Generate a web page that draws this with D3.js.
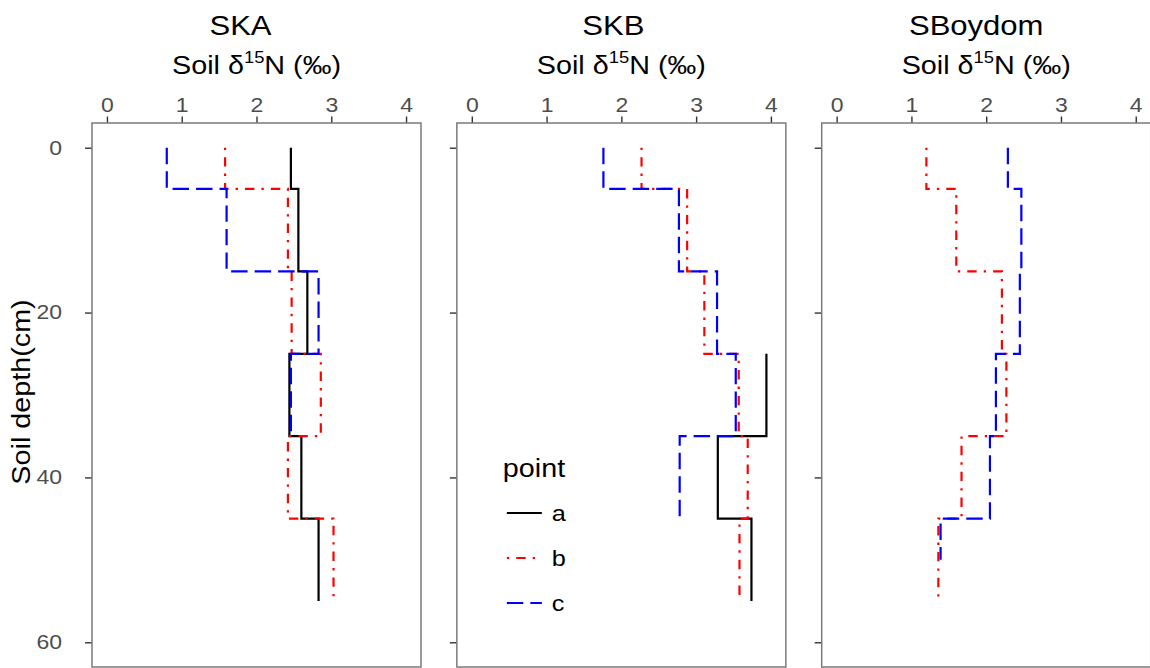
<!DOCTYPE html>
<html>
<head>
<meta charset="utf-8">
<script src="https://cdn.jsdelivr.net/npm/d3@7"></script>
<style>
  body { margin: 0; background: #fff; }
  text { font-family: "Liberation Sans", Arial, sans-serif; }
</style>
</head>
<body>
<script>
// ---- data ----
const sites = ["SKA", "SKB", "SBoydom"];
const points = ["a", "b", "c"];
const layerTop = [0, 5, 15, 25, 35, 45];
const layerBottom = [5, 15, 25, 35, 45, 55];
const xTicks = [0, 1, 2, 3, 4];
const yTicks = [0, 20, 40, 60];

// soil d15N per layer, null = not sampled
const skaA = [2.46, 2.56, 2.68, 2.44, 2.60, 2.83];
const skaB = [1.58, 2.42, 2.47, 2.86, 2.42, 3.03];
const skaC = [0.80, 1.60, 2.83, 2.46, null, null];
const skbA = [null, null, null, 3.94, 3.29, 3.74];
const skbB = [2.27, 2.88, 3.11, 3.57, 3.69, 3.58];
const skbC = [1.76, 2.77, 3.28, 3.53, 2.78, null];
const sbB  = [1.20, 1.60, 2.21, 2.27, 1.67, 1.36];
const sbC  = [2.29, 2.47, 2.45, 2.13, 2.05, 1.39];
// last SBoydom c sample stops at 50 cm
const sbCBottom = [5, 15, 25, 35, 45, 50];

const series = [
  {site: "SKA", point: "a", v: skaA, bot: layerBottom},
  {site: "SKA", point: "b", v: skaB, bot: layerBottom},
  {site: "SKA", point: "c", v: skaC, bot: layerBottom},
  {site: "SKB", point: "a", v: skbA, bot: layerBottom},
  {site: "SKB", point: "b", v: skbB, bot: layerBottom},
  {site: "SKB", point: "c", v: skbC, bot: layerBottom},
  {site: "SBoydom", point: "b", v: sbB, bot: layerBottom},
  {site: "SBoydom", point: "c", v: sbC, bot: sbCBottom}
];

// ---- layout ----
const WIDTH = 1150, HEIGHT = 668;
const sx = 1.15; // text is a bit wide in the original
const panelW = 329, panelStep = 364.85, panelLeft = 92;
const plotTop = 123, plotBottom = 667;
const titleShift = [-16, -8, -10];

const colors = {a: "#000000", b: "#ff0000", c: "#0000ff"};
const dashes = {a: null, b: "2.35 7.05 9.4 7.05", c: "16.45 7.05"};

const svg = d3.select("body").append("svg")
  .attr("width", WIDTH).attr("height", HEIGHT);

const y = d3.scaleLinear().domain([-3, 63]).range([plotTop, plotBottom]);

function stepPoints(s) {
  let pts = [];
  s.v.forEach((val, i) => {
    if (val === null) return;
    pts.push([val, layerTop[i]]);
    pts.push([val, s.bot[i]]);
  });
  return pts;
}

sites.forEach((site, i) => {
  const left = panelLeft + i * panelStep;
  const x = d3.scaleLinear().domain([-0.2, 4.2]).range([left, left + panelW]);
  const g = svg.append("g");

  // title
  g.append("text")
    .attr("transform", `translate(${left + panelW / 2 + titleShift[i]},35) scale(${sx},1)`)
    .attr("text-anchor", "middle")
    .attr("font-size", 27)
    .attr("fill", "#000")
    .text(site);

  // x axis title
  let xt = g.append("text")
    .attr("transform", `translate(${left + panelW / 2},74) scale(${sx},1)`)
    .attr("text-anchor", "middle")
    .attr("font-size", 25)
    .attr("fill", "#000");
  xt.append("tspan").text("Soil \u03b4");
  xt.append("tspan").attr("font-size", 16).attr("dy", -11).text("15");
  xt.append("tspan").attr("dy", 11).text("N (\u2030)");

  // axes
  let ax = g.append("g")
    .attr("transform", `translate(0,${plotTop})`)
    .call(d3.axisTop(x).tickValues(xTicks).tickSize(6.5).tickPadding(5).tickFormat(d3.format("d")));
  let ay = g.append("g")
    .attr("transform", `translate(${left},0)`)
    .call(d3.axisLeft(y).tickValues(yTicks).tickSize(7).tickPadding(19)
      .tickFormat(i === 0 ? d3.format("d") : () => ""));
  [ax, ay].forEach(a => {
    a.select(".domain").remove();
    a.selectAll(".tick line").attr("stroke", "#333").attr("stroke-width", 1.4);
    a.selectAll(".tick text")
      .attr("font-size", 20)
      .attr("fill", "#4d4d4d")
      .attr("font-family", "Liberation Sans, Arial, sans-serif")
      .attr("transform", `scale(${sx},1)`);
  });

  // step lines
  const line = d3.line().x(d => x(d[0])).y(d => y(d[1]));
  points.forEach(p => {
    series.filter(s => s.site === site && s.point === p).forEach(s => {
      g.append("path")
        .attr("d", line(stepPoints(s)))
        .attr("fill", "none")
        .attr("stroke", colors[p])
        .attr("stroke-width", 2.2)
        .attr("stroke-dasharray", dashes[p]);
    });
  });

  // border
  g.append("rect")
    .attr("x", left).attr("y", plotTop)
    .attr("width", panelW).attr("height", plotBottom - plotTop)
    .attr("fill", "none")
    .attr("stroke", "#7a7a7a")
    .attr("stroke-width", 1.5);

  // legend sits inside the SKB panel
  if (i === 1) {
    const lg = g.append("g").attr("transform", `translate(${left},0)`);
    lg.append("text")
      .attr("transform", `translate(46,477) scale(${sx},1)`)
      .attr("font-size", 25)
      .attr("fill", "#000")
      .text("point");
    const keyY = d3.scalePoint().domain(points).range([513, 603]);
    points.forEach(p => {
      lg.append("line")
        .attr("x1", 50).attr("x2", 85)
        .attr("y1", keyY(p)).attr("y2", keyY(p))
        .attr("stroke", colors[p])
        .attr("stroke-width", 2.2)
        .attr("stroke-dasharray", dashes[p]);
      lg.append("text")
        .attr("transform", `translate(95,${keyY(p) + 8}) scale(${sx},1)`)
        .attr("font-size", 22)
        .attr("fill", "#000")
        .text(p);
    });
  }
});

// y axis title
svg.append("text")
  .attr("transform", "translate(30,392) rotate(-90) scale(1.15,1)")
  .attr("text-anchor", "middle")
  .attr("font-size", 25)
  .attr("fill", "#000")
  .text("Soil depth(cm)");
</script>
</body>
</html>
